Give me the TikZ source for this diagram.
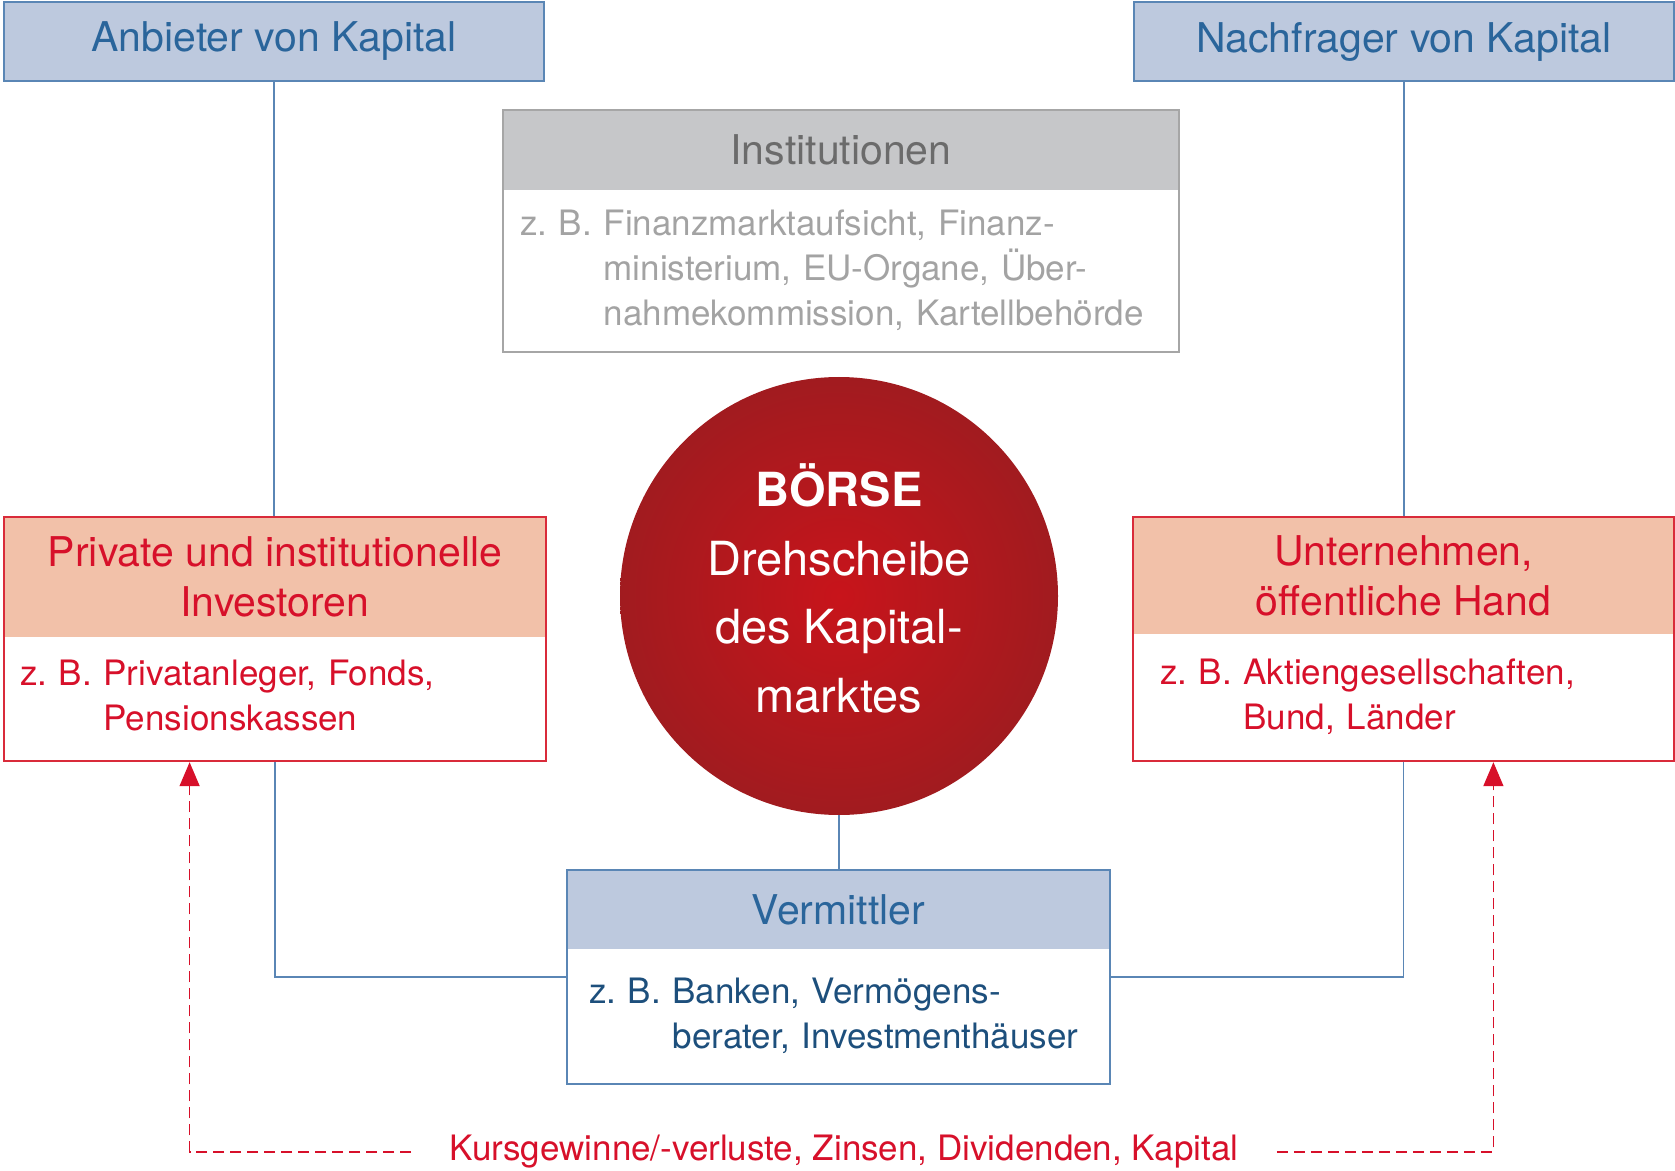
\documentclass[tikz,border=0pt]{standalone}
\usepackage{fontspec}
\setmainfont{TeX Gyre Heros}
\usepackage{xcolor}
\usetikzlibrary{arrows.meta, positioning, fit}
\frenchspacing

\definecolor{kblue}{HTML}{BDC9DE}
\definecolor{kblueline}{HTML}{5A86B5}
\definecolor{kbluetext}{HTML}{2A659B}
\definecolor{knavy}{HTML}{1D4F7C}
\definecolor{kgray}{HTML}{C6C7C9}
\definecolor{kgrayline}{HTML}{A6A6A6}
\definecolor{kgraytext}{HTML}{6B6B6B}
\definecolor{kgraybody}{HTML}{A3A3A3}
\definecolor{ksalmon}{HTML}{F2C1A9}
\definecolor{kred}{HTML}{D7102A}
\definecolor{kredline}{HTML}{D92B3A}
\definecolor{kcore}{HTML}{C8141B}
\definecolor{krim}{HTML}{A11B1F}

\newcommand{\hdfont}{\fontsize{20.5}{25}\selectfont}
\newcommand{\bdfont}{\fontsize{17.5}{22.5}\selectfont}

\tikzset{
    headbox/.style={rectangle, inner sep=0pt, align=center, font=\hdfont},
    bodybox/.style={rectangle, inner sep=0pt, align=left, font=\bdfont},
    boxframe/.style={draw=#1, line width=1pt, inner sep=0pt},
    link/.style={draw=kblueline, line width=0.8pt},
    flow/.style={draw=kred, line width=0.8pt, dash pattern=on 5.5pt off 3pt,
        -{Triangle[width=10pt, length=12pt]}}
}

\begin{document}
\begin{tikzpicture}[x=0.5pt, y=-0.5pt]
    \useasboundingbox (0,0) rectangle (1675,1171);

    % oben: Anbieter und Nachfrager
    \node[headbox, fill=kblue, draw=kblueline, line width=1pt, minimum width=270pt, minimum height=39.5pt, text=kbluetext] (anb) at (274,41.5) {Anbieter von Kapital};
    \node[headbox, fill=kblue, draw=kblueline, line width=1pt, minimum width=270pt, minimum height=39.5pt, text=kbluetext] (nach) at (1404,41.5) {Nachfrager von Kapital};

    % Institutionen
    \node[headbox, fill=kgray, minimum width=338pt, minimum height=40pt, text=kgraytext] (instH) at (841,150) {Institutionen};
    \node[bodybox, below=0pt of instH, minimum width=338pt, minimum height=80.5pt, text width=321pt, text=kgraybody] (instB) {
        \begin{tabular}{@{}l@{\ }l@{}}
            z. B. & Finanzmarktaufsicht, Finanz-\\
                  & ministerium, EU-Organe, Über-\\
                  & nahmekommission, Kartellbehörde
        \end{tabular}
    };
    \node[boxframe=kgrayline, fit=(instH)(instB)] (inst) {};

    % Mitte: Börse
    \node[circle, minimum size=219pt, inner sep=0pt, text depth=8pt, inner color=kcore, outer color=krim, text=white, align=center, font=\fontsize{23.5}{34.3}\selectfont] (boerse) at (839,596) {\textbf{BÖRSE}\\Drehscheibe\\des Kapital-\\marktes};

    % links: Investoren
    \node[headbox, fill=ksalmon, minimum width=271pt, minimum height=60pt, text=kred] (privH) at (275,577) {Private und institutionelle\\Investoren};
    \node[bodybox, below=0pt of privH, minimum width=271pt, minimum height=61.5pt, text width=255pt, text=kred] (privB) {
        \begin{tabular}{@{}l@{\ }l@{}}
            z. B. & Privatanleger, Fonds,\\
                  & Pensionskassen
        \end{tabular}
    };
    \node[boxframe=kredline, fit=(privH)(privB)] (priv) {};

    % rechts: Unternehmen
    \node[headbox, fill=ksalmon, minimum width=270.5pt, minimum height=58.5pt, text=kred] (untH) at (1403.5,575.5) {Unternehmen,\\öffentliche Hand};
    \node[bodybox, below=0pt of untH, minimum width=270.5pt, minimum height=63pt, text width=243.5pt, text=kred] (untB) {
        \begin{tabular}{@{}l@{\ }l@{}}
            z. B. & Aktiengesellschaften,\\
                  & Bund, Länder
        \end{tabular}
    };
    \node[boxframe=kredline, fit=(untH)(untB)] (unt) {};

    % unten: Vermittler
    \node[headbox, fill=kblue, minimum width=271.5pt, minimum height=39.5pt, text=kbluetext] (vermH) at (838.5,909.5) {Vermittler};
    \node[bodybox, below=0pt of vermH, minimum width=271.5pt, minimum height=67pt, text width=249.5pt, text=knavy] (vermB) {
        \begin{tabular}{@{}l@{\ }l@{}}
            z. B. & Banken, Vermögens-\\
                  & berater, Investmenthäuser
        \end{tabular}
    };
    \node[boxframe=kblueline, fit=(vermH)(vermB)] (verm) {};

    % Verbindungen
    \draw[link] (anb.south) -- (anb.south |- priv.north);
    \draw[link] (nach.south) -- (nach.south |- unt.north);
    \draw[link] (boerse.south) -- (boerse.south |- verm.north);
    \draw[link] (priv.south) |- (verm.west);
    \draw[link] (unt.south) |- (verm.east);

    % Rückfluss
    \node[text=kred, font=\bdfont, inner xsep=19pt, inner ysep=0pt] (gain) at (844,1152) {Kursgewinne/-verluste, Zinsen, Dividenden, Kapital};
    \coordinate (gainL) at ([xshift=93.5pt]priv.south west);
    \coordinate (gainR) at ([xshift=-91pt]unt.south east);
    \draw[flow] (gain.west) -| (gainL);
    \draw[flow] (gain.east) -| (gainR);
\end{tikzpicture}
\end{document}
